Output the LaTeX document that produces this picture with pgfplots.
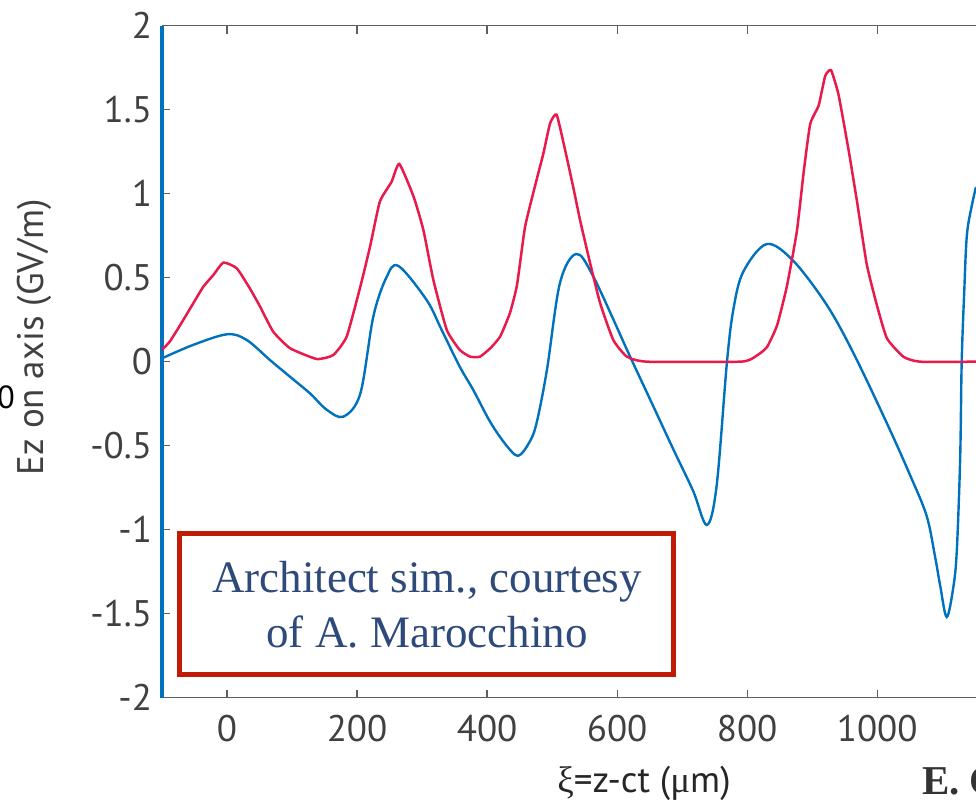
\documentclass[border=0pt]{standalone}
\usepackage{pgfplots}
\pgfplotsset{compat=1.18}
\usepackage{fontspec}
\setmainfont{PT Sans}
\newfontfamily\serifG{Liberation Serif}
\definecolor{myblue}{RGB}{0,114,189}
\definecolor{myred}{RGB}{232,25,75}
\definecolor{boxred}{RGB}{192,28,5}
\definecolor{navy}{RGB}{46,74,122}
\definecolor{labgray}{RGB}{64,64,64}
\definecolor{axgray}{RGB}{95,95,95}
\newcommand\ticks{\fontsize{18.5}{22}\selectfont}
\begin{document}
\begin{tikzpicture}
\useasboundingbox (0,0) rectangle (488pt,403.5pt);
\begin{scope}
\clip (0,0) rectangle (488pt,403.5pt);
\begin{axis}[
  at={(81pt,54.65pt)}, anchor=south west, scale only axis,
  width=407pt, height=336pt,
  xmin=-100, xmax=1152, ymin=-2, ymax=2,
  axis x line*=box, axis y line*=left,
  x axis line style={draw=axgray, line width=0.6pt, -},
  y axis line style={draw=myblue, line width=1.75pt, -},
  tick align=inside,
  major tick length=4pt,
  tick style={draw=axgray, line width=0.6pt},
  xtick={0,200,400,600,800,1000},
  xticklabels={0,200,400,600,800,1000},
  ytick={-2,-1.5,-1,-0.5,0,0.5,1,1.5,2},
  yticklabels={-2,-1.5,-1,-0.5,0,0.5,1,1.5,2},
  ticklabel style={font=\ticks, text=labgray},
  xticklabel style={yshift=-5pt},
  yticklabel style={xshift=-1.5pt},
]
\addplot[myblue, line width=1.2pt, smooth, tension=0.55] coordinates {
(-100,0.02) (-52,0.10) (0,0.163) (30,0.13) (66,0.01) (97,-0.09) (128,-0.19)
(153,-0.285) (179,-0.327) (205,-0.19) (225,0.268) (245,0.5) (263.5,0.57)
(307,0.367) (330,0.19) (358,-0.03) (379,-0.17) (405,-0.36) (430,-0.50)
(448,-0.56) (465,-0.48) (476,-0.367) (492,-0.05) (512,0.467) (537,0.641)
(563.5,0.506) (620,0.03) (655,-0.26) (687,-0.526) (717,-0.77) (738,-0.972) (753,-0.741)
(769,0) (779,0.315) (794,0.535) (830,0.70) (871,0.60) (922.6,0.337)
(963.6,0.05) (1015,-0.367) (1050,-0.67) (1076,-0.917) (1089,-1.16) (1097,-1.335)
(1107,-1.52) (1117.4,-1.335) (1122.6,-1.115) (1127.7,-0.565) (1130,0)
(1134,0.427) (1138,0.755) (1145.6,0.93) (1152,1.04)
};
\addplot[myred, line width=1.25pt, smooth, tension=0.3] coordinates {
(-100,0.07) (-88,0.12) (-72,0.218) (-52,0.347) (-36.5,0.446) (-21,0.516)
(-5.6,0.59) (15,0.556) (35,0.437) (51,0.327) (71,0.179) (97,0.08)
(138,0.016) (163.5,0.04) (184,0.149) (205,0.446) (220,0.685) (235,0.952)
(253,1.07) (265,1.177) (287,0.982) (302,0.784) (317.4,0.486) (338,0.189)
(358,0.07) (374,0.03) (389,0.03) (405,0.08) (420,0.149) (435,0.288)
(446,0.456) (458.5,0.804) (476,1.08) (486.6,1.24) (497,1.42) (507,1.47)
(520,1.26) (533,1.03) (543,0.843) (558.5,0.586) (574,0.347) (594,0.13)
(615,0.03) (646,0) (789,0) (810,0.024) (830,0.084) (846,0.216) (861,0.447)
(876.5,0.777) (887,1.13) (897,1.415) (910,1.525) (920,1.70) (929,1.735)
(940.5,1.59) (956,1.26) (969,0.953) (984,0.579) (999.5,0.337) (1015,0.139)
(1040.5,0.029) (1066,0) (1152,0)
};
\end{axis}
% annotation box
\draw[boxred, line width=2.5pt] (89.6pt,66.4pt) rectangle (336.75pt,136.75pt);
\node[anchor=base, text=navy, font=\serifG\fontsize{22.5}{27}\selectfont, inner sep=0pt]
  at (213.5pt,107pt) {Architect sim., courtesy};
\node[anchor=base, text=navy, font=\serifG\fontsize{22.5}{27}\selectfont, inner sep=0pt]
  at (213.5pt,79.5pt) {of A. Marocchino};
% labels
\node[anchor=base, rotate=90, text=labgray, font=\ticks, inner sep=0pt]
  at (21.5pt,235pt) {Ez on axis (GV/m)};
\node[anchor=base, text=black!85, font=\ticks, inner sep=0pt]
  at (322pt,7pt) {{\serifG ξ}=z-ct ({\serifG μ}m)};
\node[anchor=base west, text=black!80, font=\serifG\bfseries\fontsize{20.5}{24}\selectfont, inner sep=0pt]
  at (460.85pt,6pt) {E. C};
\node[text=black, font=\fontsize{16}{19}\selectfont, inner sep=0pt]
  at (3pt,205pt) {0};
\end{scope}
\end{tikzpicture}
\end{document}
